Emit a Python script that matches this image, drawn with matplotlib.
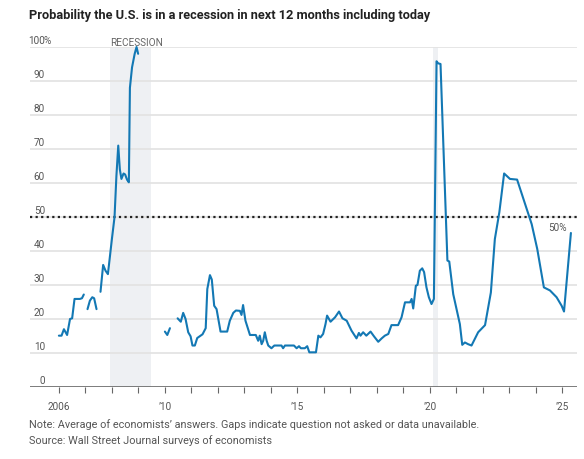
import numpy as np
import matplotlib
matplotlib.use("Agg")
import matplotlib.pyplot as plt
from matplotlib.transforms import blended_transform_factory

plt.rcParams['font.family'] = ['Roboto', 'DejaVu Sans']

# survey dates (decimal year) and average probability, NaN = gap in survey
years = [
    2006.00, 2006.10, 2006.19, 2006.31, 2006.42, 2006.50, 2006.59, 2006.79, 2006.87, 2006.94, np.nan,
    2007.08, 2007.17, 2007.26, 2007.33, 2007.42, np.nan,
    2007.57, 2007.67, 2007.76, 2007.85, 2007.92, 2008.00, 2008.10, 2008.17, 2008.24, 2008.30,
    2008.36, 2008.44, 2008.50, 2008.57, 2008.64, 2008.68, 2008.76, 2008.86, 2008.93, 2008.99, np.nan,
    2010.00, 2010.09, 2010.19, np.nan,
    2010.48, 2010.60, 2010.69, 2010.78, 2010.88, 2010.97, 2011.04, 2011.13, 2011.22, 2011.35,
    2011.42, 2011.54, 2011.60, 2011.70, 2011.77, 2011.86, 2011.95, 2012.10, 2012.35, 2012.45,
    2012.58, 2012.68, 2012.83, 2012.89, 2012.95, 2013.04, 2013.21, 2013.43, 2013.52, 2013.58,
    2013.65, 2013.71, 2013.77, 2013.84, 2013.90, 2014.02, 2014.13, 2014.40, 2014.46, 2014.53,
    2014.87, 2014.97, 2015.06, 2015.13, 2015.28, 2015.37, 2015.45, 2015.70, 2015.79, 2015.87,
    2015.97, 2016.06, 2016.12, 2016.25, 2016.42, 2016.57, 2016.70, 2016.86, 2017.04, 2017.23,
    2017.32, 2017.38, 2017.48, 2017.60, 2017.76, 2017.89, 2018.05, 2018.18, 2018.30, 2018.43,
    2018.55, 2018.80, 2018.93, 2019.06, 2019.25, 2019.31, 2019.37, 2019.47, 2019.53, 2019.62,
    2019.71, 2019.78, 2019.87, 2019.96, 2020.06, 2020.15, 2020.25, 2020.31, 2020.40, 2020.66,
    2020.73, 2020.88, 2021.03, 2021.13, 2021.22, 2021.32, 2021.44, 2021.57, 2021.82, 2022.08,
    2022.30, 2022.45, 2022.62, 2022.80, 2023.02, 2023.29, 2023.52, 2023.84, 2024.05, 2024.30,
    2024.53, 2024.78, 2024.97, 2025.06, 2025.32,
]
prob = [
    15.1, 15.1, 17.0, 15.3, 20.0, 20.2, 25.9, 25.9, 26.1, 27.2, np.nan,
    22.9, 25.4, 26.4, 26.1, 22.9, np.nan,
    28.0, 35.9, 34.2, 33.2, 38.0, 43.5, 50.0, 62.0, 71.0, 64.0,
    61.2, 62.8, 62.5, 61.0, 60.2, 88.0, 94.0, 98.0, 100.0, 98.0, np.nan,
    16.3, 15.3, 17.3, np.nan,
    20.2, 19.2, 21.8, 20.0, 16.1, 14.9, 12.2, 12.2, 14.4, 15.1,
    15.5, 17.3, 28.8, 32.9, 31.6, 23.9, 22.9, 16.3, 16.3, 19.5,
    21.8, 22.5, 22.4, 21.2, 24.1, 19.5, 15.3, 15.3, 13.6, 15.1,
    12.6, 13.6, 16.1, 13.6, 12.2, 11.4, 12.2, 12.2, 11.4, 12.2,
    12.2, 11.4, 12.0, 11.4, 11.4, 12.0, 10.2, 10.2, 15.1, 14.6,
    15.6, 18.5, 21.0, 19.2, 20.5, 22.2, 20.2, 19.5, 16.6, 14.3,
    15.9, 15.1, 16.1, 15.1, 16.3, 14.9, 13.3, 14.3, 15.1, 15.6,
    18.2, 18.2, 20.5, 24.9, 24.9, 25.9, 23.1, 29.8, 30.0, 34.2,
    34.9, 33.8, 29.3, 26.4, 24.4, 25.9, 95.8, 95.2, 95.0, 37.2,
    36.9, 27.3, 22.0, 18.5, 12.4, 13.1, 12.6, 12.2, 16.1, 18.2,
    27.8, 43.5, 51.4, 62.8, 61.2, 61.0, 55.5, 47.9, 40.6, 29.3,
    28.4, 26.4, 23.9, 22.2, 45.3,
]

recessions = [(2007.92, 2009.46), (2020.12, 2020.29)]
ytick_vals = [0, 10, 20, 30, 40, 50, 60, 70, 80, 90, 100]
xtick_vals = [2006, 2010, 2015, 2020, 2025]
xtick_labels = ['2006', '\u201910', '\u201915', '\u201920', '\u201925']

blue = '#1378b4'
grey_txt = '#555555'
fs = 7.2

fig = plt.figure(figsize=(5.84, 4.6), dpi=100)
ax = fig.add_axes([30/584, 72/460, 547/584, 340/460])
ax.set_xlim(2004.91, 2025.55)
ax.set_ylim(0, 100)

for s, e in recessions:
    ax.axvspan(s, e, color='#eef0f3', lw=0, zorder=0)

for v in ytick_vals[1:]:
    ax.axhline(v, color='#e2e2e2', lw=1.2, zorder=1)
ax.axhline(0, color='#666666', lw=1.2, zorder=3)
ax.axhline(50, color='#222222', lw=1.6, ls=(0, (1, 1.5)), zorder=2)

ax.plot(years, prob, color=blue, lw=1.5, zorder=4, clip_on=False,
        solid_joinstyle='round', solid_capstyle='round')

for sp in ax.spines.values():
    sp.set_visible(False)

# y labels sit above their gridlines, digits right-aligned
trans = blended_transform_factory(fig.transFigure, ax.transData)
for v in ytick_vals:
    ax.annotate(str(v), xy=(45/584, v), xycoords=trans, xytext=(0, 2),
                textcoords='offset pixels', ha='right', va='bottom',
                fontsize=fs, color=grey_txt)
ax.annotate('%', xy=(45/584, 100), xycoords=trans, xytext=(-1, 2),
            textcoords='offset pixels', ha='left', va='bottom',
            fontsize=fs, color=grey_txt)

ax.set_yticks([])
ax.set_xticks(xtick_vals)
ax.set_xticklabels(xtick_labels)
ax.set_xticks(np.arange(2006, 2026), minor=True)
ax.tick_params(axis='x', which='both', length=4, width=0.8, color='#666666',
               direction='out', labelsize=fs, labelcolor=grey_txt, pad=6)

ax.text(recessions[0][0], 100, 'RECESSION', ha='left', va='bottom',
        fontsize=fs, color='#666666', transform=ax.transData)
ax.annotate('50%', xy=(567/584, 50), xycoords=trans, xytext=(0, -5),
            textcoords='offset pixels', ha='right', va='top',
            fontsize=fs, color=grey_txt)

fig.text(29/584, 1 - 15/460,
         'Probability the U.S. is in a recession in next 12 months including today',
         ha='left', va='center', fontsize=9.2, fontweight='bold', color='#222222')
fig.text(29/584, 1 - 425/460,
         'Note: Average of economists\u2019 answers. Gaps indicate question not asked or data unavailable.',
         ha='left', va='center', fontsize=7.8, color=grey_txt)
fig.text(29/584, 1 - 441/460, 'Source: Wall Street Journal surveys of economists',
         ha='left', va='center', fontsize=7.8, color=grey_txt)

fig.savefig('out.png', dpi=100)
